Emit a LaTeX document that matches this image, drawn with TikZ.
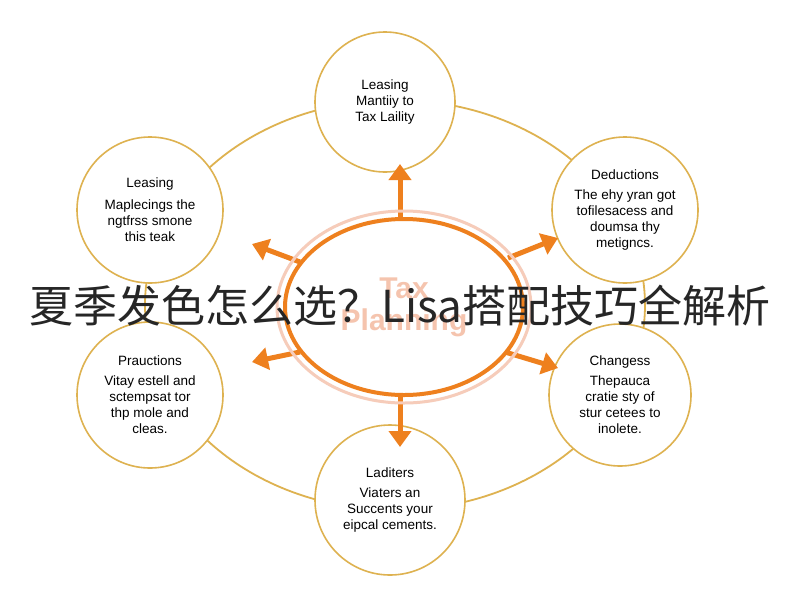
\documentclass[tikz,border=0pt]{standalone}
\usepackage{fontspec}
\setmainfont{Liberation Sans}
\newfontfamily\cjk{Noto Sans CJK SC}
\usetikzlibrary{arrows.meta}
\definecolor{gold}{RGB}{222,178,80}
\definecolor{org}{RGB}{238,128,30}
\definecolor{peach}{RGB}{240,170,140}
\begin{document}
\begin{tikzpicture}[x=1pt,y=-1pt,
  sat/.style={circle,draw=gold,line width=1.6pt,fill=white,minimum size=#1pt,align=center,font=\fontsize{13.5}{16}\selectfont,inner sep=0pt},
  arr/.style={org,line width=5pt,-{Triangle[length=16pt,width=22pt]}}]
\useasboundingbox (0,0) rectangle (800,600);
\fill[white] (0,0) rectangle (800,600);
\draw[gold,line width=1.8pt] (395,305) ellipse [x radius=250,y radius=205];
\coordinate (c) at (404,307);
\node[sat=140] (t) at (385,102) {Leasing\\Mantiiy to\\Tax Laility};
\node[sat=146] (lt) at (150,210) {Leasing\\[6pt]Maplecings the\\ngtfrss smone\\this teak};
\node[sat=146] (rt) at (625,210) {Deductions\\[4pt]The ehy yran got\\tofilesacess and\\doumsa thy\\metigncs.};
\node[sat=146] (lb) at (150,395) {Prauctions\\[4pt]Vitay estell and\\sctempsat tor\\thp mole and\\cleas.};
\node[sat=142] (rb) at (620,395) {Changess\\[4pt]Thepauca\\cratie sty of\\stur cetees to\\inolete.};
\node[sat=150] (b) at (390,500) {Laditers\\[4pt]Viaters an\\Succents your\\eipcal cements.};
\coordinate (at) at (400,164);
\coordinate (ab) at (400,447);
\coordinate (alt) at (252,244);
\coordinate (art) at (558,238);
\coordinate (alb) at (252,362);
\coordinate (arb) at (558,368);
\draw[arr] (400,220) -- (at);
\draw[arr] (400,393) -- (ab);
\draw[arr] (300,262) -- (alt);
\draw[arr] (508,258) -- (art);
\draw[arr] (300,352) -- (alb);
\draw[arr] (505,352) -- (arb);
\draw[peach!60,line width=3pt] (c) ellipse [x radius=127,y radius=96];
\fill[white] (c) ellipse [x radius=118,y radius=87];
\draw[org,line width=4pt] (c) ellipse [x radius=119,y radius=88];
\node[text=peach!70,font=\bfseries\fontsize{30}{32}\selectfont,align=center] (cn) at (c) {Tax\\Planning};
\node[font=\cjk\fontsize{44}{48}\selectfont,text=black!85] (title) at (400,306) {夏季发色怎么选？Lisa搭配技巧全解析};
\end{tikzpicture}
\end{document}
